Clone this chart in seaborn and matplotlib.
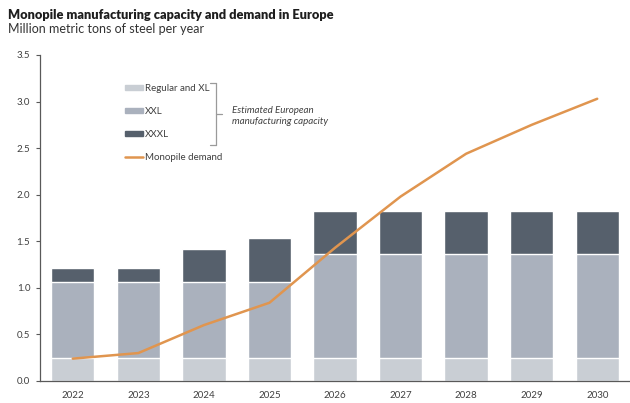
import matplotlib
matplotlib.use("Agg")
import matplotlib.pyplot as plt
import matplotlib.patches as mpatches
from matplotlib.lines import Line2D
import seaborn as sns
import pandas as pd

years = ["2022", "2023", "2024", "2025", "2026", "2027", "2028", "2029", "2030"]
regular_xl = [0.25, 0.25, 0.25, 0.25, 0.25, 0.25, 0.25, 0.25, 0.25]
xxl = [0.81, 0.81, 0.81, 0.81, 1.11, 1.11, 1.11, 1.11, 1.11]
xxxl = [0.15, 0.15, 0.36, 0.48, 0.47, 0.47, 0.47, 0.47, 0.47]
demand = [0.24, 0.30, 0.60, 0.84, 1.43, 1.98, 2.44, 2.75, 3.03]
y_ticks = [0.0, 0.5, 1.0, 1.5, 2.0, 2.5, 3.0, 3.5]

C_REG = "#c9ced4"
C_XXL = "#aab1bd"
C_XXXL = "#56606c"
C_DEMAND = "#e0954f"
C_TEXT = "#404040"
C_AXIS = "#595959"

sns.set_theme(style="white")
plt.rcParams["font.family"] = ["Lato", "DejaVu Sans"]

df = pd.DataFrame({"year": years, "reg": regular_xl, "xxl": xxl, "xxxl": xxxl, "demand": demand})
df["lvl2"] = df["reg"] + df["xxl"]
df["lvl3"] = df["lvl2"] + df["xxxl"]
df["pos"] = range(len(years))

fig = plt.figure(figsize=(6.30, 4.03), dpi=100)
ax = fig.add_axes([40 / 630, 22 / 403, 590 / 630, 326 / 403])

bw = 0.66
sns.barplot(data=df, x="year", y="lvl3", color=C_XXXL, width=bw, saturation=1, ax=ax, order=years)
sns.barplot(data=df, x="year", y="lvl2", color=C_XXL, width=bw, saturation=1, ax=ax, order=years)
sns.barplot(data=df, x="year", y="reg", color=C_REG, width=bw, saturation=1, ax=ax, order=years)
sns.lineplot(data=df, x="pos", y="demand", color=C_DEMAND, linewidth=1.8, ax=ax)

ax.set_xlim(-0.5, len(years) - 0.5)
ax.set_ylim(0, 3.5)
ax.set_yticks(y_ticks)
ax.set_yticklabels([f"{v:.1f}" for v in y_ticks])
ax.set_xlabel("")
ax.set_ylabel("")

# x tick marks sit at the category boundaries; labels centred under bars
ax.set_xticks(range(len(years)))
ax.set_xticklabels(years)
ax.set_xticks([i + 0.5 for i in range(-1, len(years))], minor=True)
ax.tick_params(axis="x", which="major", length=0, labelsize=7, colors=C_TEXT, pad=7)
ax.tick_params(axis="x", which="minor", length=3, width=0.8, color=C_AXIS, direction="out")
ax.tick_params(axis="y", length=3, width=0.8, color=C_AXIS, labelsize=7, labelcolor=C_TEXT, pad=4, left=True)

for s in ["top", "right"]:
    ax.spines[s].set_visible(False)
for s in ["left", "bottom"]:
    ax.spines[s].set_color(C_AXIS)
    ax.spines[s].set_linewidth(0.9)

handles = [
    mpatches.Patch(color=C_REG, label="Regular and XL"),
    mpatches.Patch(color=C_XXL, label="XXL"),
    mpatches.Patch(color=C_XXXL, label="XXXL"),
    Line2D([], [], color=C_DEMAND, linewidth=1.8, label="Monopile demand"),
]
leg = ax.legend(handles=handles, loc="upper left", bbox_to_anchor=(120 / 630, (403 - 79) / 403),
                bbox_transform=fig.transFigure, frameon=False, fontsize=7, handlelength=1.9,
                handleheight=0.5, handletextpad=0.2, labelspacing=1.45, borderpad=0)
for t in leg.get_texts():
    t.set_color(C_TEXT)

# bracket grouping the capacity entries
def px(x, y):
    return x / 630, (403 - y) / 403

bx, by0, by1, bym = 216, 83, 145, 114
for (x0, y0), (x1, y1) in [((210, by0), (bx, by0)), ((bx, by0), (bx, by1)), ((210, by1), (bx, by1)), ((bx, bym), (222, bym))]:
    fig.add_artist(Line2D([px(x0, y0)[0], px(x1, y1)[0]], [px(x0, y0)[1], px(x1, y1)[1]],
                          transform=fig.transFigure, color="#9a9a9a", linewidth=0.9))
fig.text(*px(232, 116), "Estimated European\nmanufacturing capacity", fontsize=7, style="italic",
         color=C_TEXT, va="center", ha="left", linespacing=1.35)

fig.text(8 / 630, 1 - 15 / 403, "Monopile manufacturing capacity and demand in Europe",
         fontsize=9.2, fontweight="heavy", color="#1e1e1e", va="center", ha="left")
fig.text(8 / 630, 1 - 29 / 403, "Million metric tons of steel per year",
         fontsize=9, color="#333333", va="center", ha="left")

fig.savefig("out.png", dpi=100)
